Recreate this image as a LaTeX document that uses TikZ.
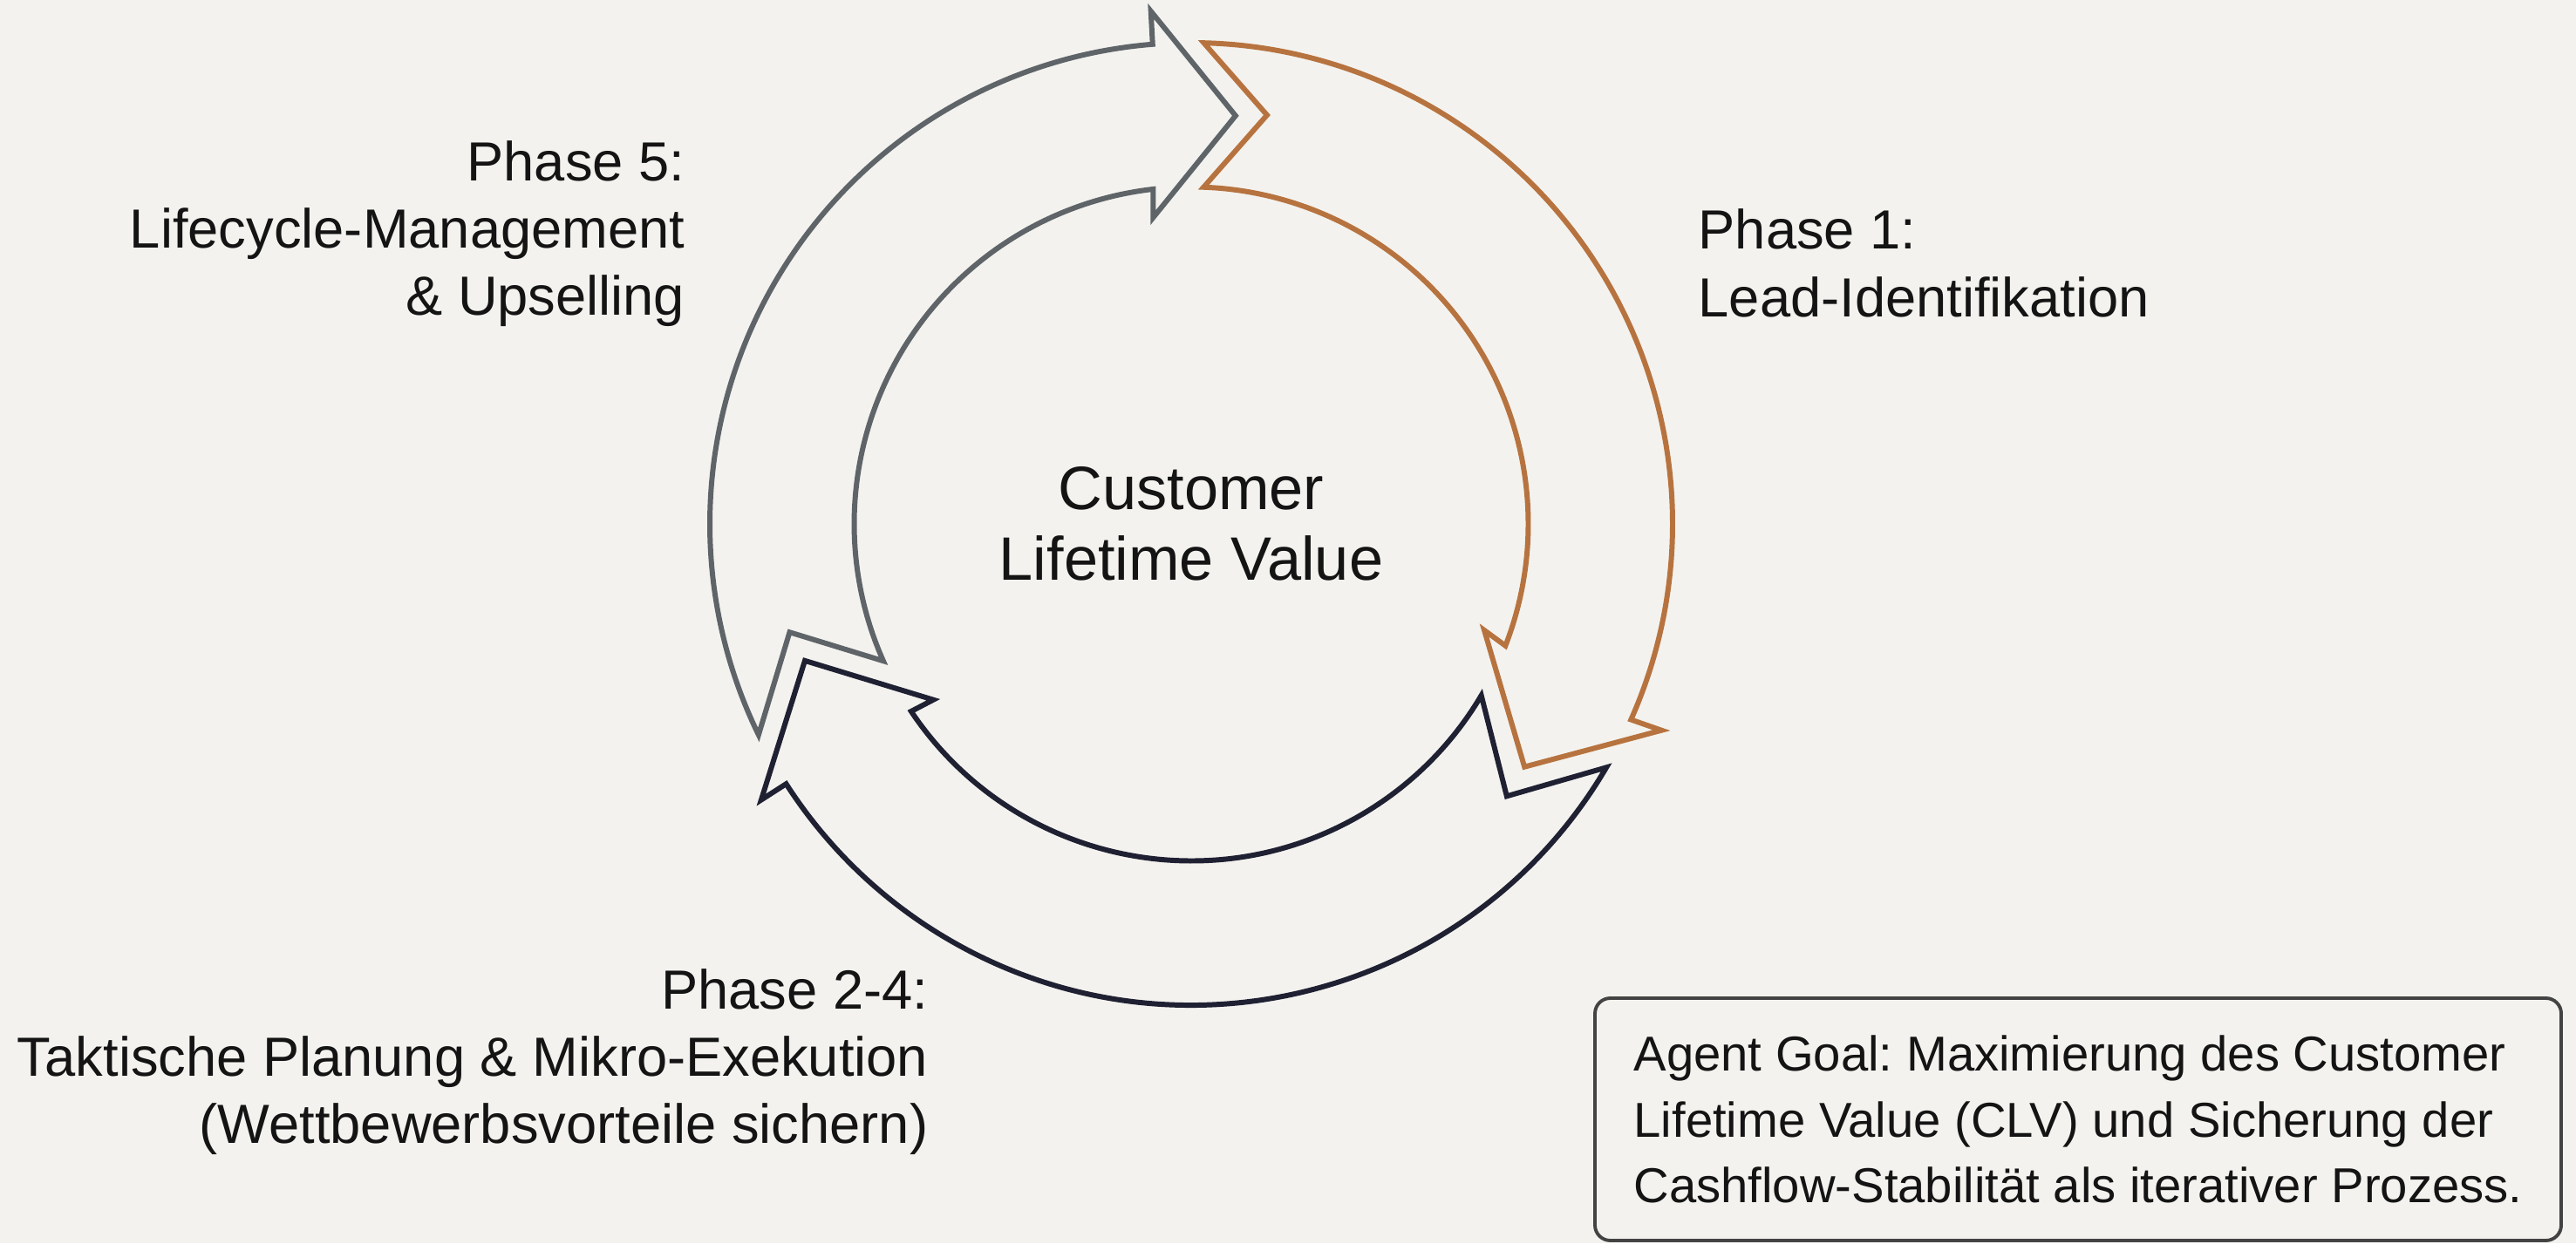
\documentclass[tikz,border=0pt]{standalone}
\usepackage{fontspec}
\setmainfont{Liberation Sans}
\frenchspacing

\definecolor{paper}{HTML}{F3F2EE}
\definecolor{slate}{HTML}{5E6468}
\definecolor{copper}{HTML}{B7733F}
\definecolor{navy}{HTML}{1F2133}
\definecolor{ink}{HTML}{141414}

\tikzstyle{ring}=[line width=1.7pt, line join=miter, miter limit=10]
\tikzstyle{phaselabel}=[text=ink, inner sep=0pt, font=\fontsize{18}{22}\selectfont]
\tikzstyle{goalbox}=[draw=ink!80, line width=1.1pt, rounded corners=5pt, text=ink, align=left, inner sep=0pt, minimum width=11.08cm, minimum height=2.78cm, font=\fontsize{16}{21.5}\selectfont]

\begin{document}
\begin{tikzpicture}
\useasboundingbox (0,0) rectangle (29.54,14.26);
\fill[paper] (0,0) rectangle (29.54,14.26);

\coordinate (c) at (13.66,8.25);

\begin{scope}[shift={(c)}]
% Phase 5 (grau)
\draw[ring, draw=slate] (206:5.52) arc[start angle=206, end angle=94.6, radius=5.52] -- (94.5:5.90) -- (83.8:4.71) -- (97.1:3.54) -- (96.5:3.865) arc[start angle=96.5, end angle=204, radius=3.865] -- (195.1:4.77) -- cycle;
% Phase 1 (kupfer)
\draw[ring, draw=copper] (88.5:5.52) arc[start angle=88.5, end angle=-24, radius=5.52] -- (-23.7:5.89) -- (-36.1:4.73) -- (-19.95:3.575) -- (-21.2:3.865) arc[start angle=-21.2, end angle=87.9, radius=3.865] -- (79.5:4.77) -- cycle;
% Phase 2-4 (navy)
\draw[ring, draw=navy] (-30.4:5.52) arc[start angle=-30.4, end angle=-147.3, radius=5.52] -- (212.7:5.86) -- (199.5:4.70) -- (214.3:3.58) -- (213.8:3.865) arc[start angle=-146.2, end angle=-30.6, radius=3.865] -- (-40.8:4.78) -- cycle;
\end{scope}

\node[phaselabel, align=center, font=\fontsize{20}{23}\selectfont] (clv) at (c) {Customer\\Lifetime Value};

\node[phaselabel, align=right, anchor=east] (phasefive) at (7.86,11.58) {Phase 5:\\Lifecycle-Management\\\& Upselling};
\node[phaselabel, align=left, anchor=west] (phaseone) at (19.47,11.24) {Phase 1:\\Lead-Identifikation};
\node[phaselabel, align=right, anchor=east] (phasetwofour) at (10.65,2.08) {Phase 2-4:\\Taktische Planung \& Mikro-Exekution\\(Wettbewerbsvorteile sichern)};

\node[goalbox] (goal) at (23.83,1.42) {Agent Goal: Maximierung des Customer\\Lifetime Value (CLV) und Sicherung der\\Cashflow-Stabilität als iterativer Prozess.};
\end{tikzpicture}
\end{document}
